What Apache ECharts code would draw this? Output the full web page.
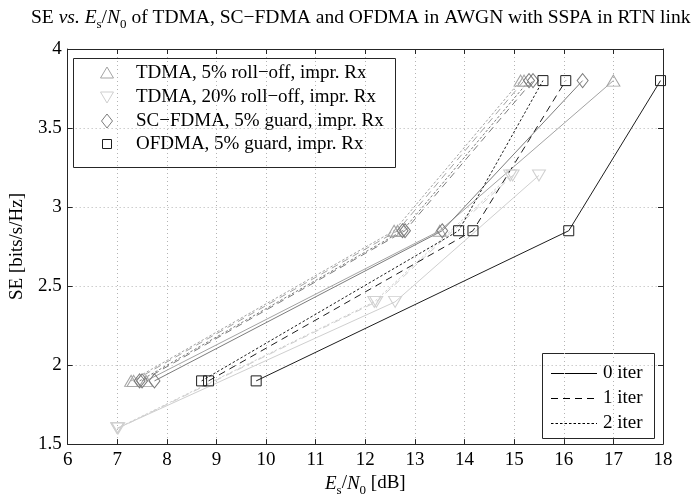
<!DOCTYPE html>
<html>
<head>
<meta charset="utf-8">
<script src="https://cdn.jsdelivr.net/npm/echarts@6/dist/echarts.min.js"></script>
<style>
  html, body { margin: 0; padding: 0; background: #fff; }
  #chart { width: 692px; height: 502px; }
</style>
</head>
<body>
<div id="chart"></div>
<script>
// Spectral efficiency operating points [bits/s/Hz]
const seLevels5 = [1.9, 2.85, 3.8];   // 5% roll-off / 5% guard band
const seLevels20 = [1.6, 2.4, 3.2];   // 20% roll-off

// Required Es/N0 [dB] for each scheme and number of receiver iterations
const tdma5Iter0 = [7.58, 13.5, 17.0];
const tdma5Iter1 = [7.33, 12.65, 15.2];
const tdma5Iter2 = [7.28, 12.58, 15.13];

const tdma20Iter0 = [7.0, 12.6, 15.5];
const tdma20Iter1 = [7.02, 12.22, 14.97];
const tdma20Iter2 = [7.0, 12.18, 14.92];

const scfdmaIter0 = [7.75, 13.55, 16.38];
const scfdmaIter1 = [7.5, 12.8, 15.38];
const scfdmaIter2 = [7.45, 12.75, 15.3];

const ofdmaIter0 = [9.8, 16.1, 17.95];
const ofdmaIter1 = [8.84, 14.17, 16.04];
const ofdmaIter2 = [8.7, 13.88, 15.58];

const schemeNames = [
  'TDMA, 5% roll\u2212off, impr. Rx',
  'TDMA, 20% roll\u2212off, impr. Rx',
  'SC\u2212FDMA, 5% guard, impr. Rx',
  'OFDMA, 5% guard, impr. Rx'
];
const iterNames = ['0 iter', '1 iter', '2 iter'];

const FONT = 'Liberation Serif';
const colTdma5 = '#a3a3a3';
const colTdma20 = '#cfcfcf';
const colScfdma = '#7c7c7c';
const colOfdma = '#1e1e1e';
const dashes = ['solid', [7, 5], [2.5, 2]];

function pairs(xs, ys) {
  return xs.map((x, i) => [x, ys[i]]);
}

function makeSeries(name, xs, ys, color, symbol, size, rotate, iter) {
  return {
    type: 'line',
    name: name,
    data: pairs(xs, ys),
    symbol: symbol,
    symbolSize: size,
    symbolRotate: rotate,
    showAllSymbol: true,
    lineStyle: { color: color, width: 1, type: dashes[iter] },
    itemStyle: { color: 'rgba(0,0,0,0)', borderColor: color, borderWidth: 1 },
    emphasis: { disabled: true },
    silent: true,
    animation: false
  };
}

const series = [];
[tdma20Iter0, tdma20Iter1, tdma20Iter2].forEach((xs, k) =>
  series.push(makeSeries(schemeNames[1], xs, seLevels20, colTdma20, 'triangle', [13, 11], 180, k)));
[tdma5Iter0, tdma5Iter1, tdma5Iter2].forEach((xs, k) =>
  series.push(makeSeries(schemeNames[0], xs, seLevels5, colTdma5, 'triangle', [13, 11], 0, k)));
[scfdmaIter0, scfdmaIter1, scfdmaIter2].forEach((xs, k) =>
  series.push(makeSeries(schemeNames[2], xs, seLevels5, colScfdma, 'diamond', [11, 14], 0, k)));
[ofdmaIter0, ofdmaIter1, ofdmaIter2].forEach((xs, k) =>
  series.push(makeSeries(schemeNames[3], xs, seLevels5, colOfdma, 'rect', [10, 10], 0, k)));

const labelStyle = { fontFamily: FONT, fontSize: 19, fontWeight: 'normal', color: '#000' };
const axisLineStyle = { lineStyle: { color: '#262626', width: 1 } };
const tickStyle = { inside: true, length: 5, lineStyle: { color: '#262626', width: 1 } };
const gridLine = { show: true, lineStyle: { color: '#b4b4b4', width: 1, type: [1, 3] } };

function mathRich(size) {
  return {
    n: { fontFamily: FONT, fontSize: size, fontWeight: 'normal', color: '#000', verticalAlign: 'top' },
    i: { fontFamily: FONT, fontSize: size, fontWeight: 'normal', fontStyle: 'italic', color: '#000', verticalAlign: 'top' },
    sub: { fontFamily: FONT, fontSize: 13, fontWeight: 'normal', color: '#000', verticalAlign: 'top', padding: [10, 0, 0, 0] }
  };
}

// Legend boxes
const L1 = { x: 73, y: 58, w: 322, h: 109, rows: [73, 97, 121, 144], mx: 107, tx: 136 };
const L2 = { x: 542, y: 353, w: 112, h: 85, rows: [373, 398, 423], x0: 551, x1: 597, tx: 603 };

function legendText(x, y, text) {
  return { type: 'text', x: x, y: y, style: { text: text, fontFamily: FONT, fontSize: 19, fill: '#000', verticalAlign: 'middle', align: 'left' } };
}

const legendGraphics = [
  { type: 'rect', shape: { x: L1.x + 0.5, y: L1.y + 0.5, width: L1.w, height: L1.h }, style: { fill: '#fff', stroke: '#262626', lineWidth: 1 } },
  { type: 'polygon', shape: { points: [[L1.mx - 6.5, L1.rows[0] + 5], [L1.mx + 6.5, L1.rows[0] + 5], [L1.mx, L1.rows[0] - 6]] }, style: { fill: 'none', stroke: colTdma5, lineWidth: 1 } },
  { type: 'polygon', shape: { points: [[L1.mx - 6.5, L1.rows[1] - 5], [L1.mx + 6.5, L1.rows[1] - 5], [L1.mx, L1.rows[1] + 6]] }, style: { fill: 'none', stroke: colTdma20, lineWidth: 1 } },
  { type: 'polygon', shape: { points: [[L1.mx, L1.rows[2] - 7], [L1.mx + 5.5, L1.rows[2]], [L1.mx, L1.rows[2] + 7], [L1.mx - 5.5, L1.rows[2]]] }, style: { fill: 'none', stroke: colScfdma, lineWidth: 1 } },
  { type: 'rect', shape: { x: L1.mx - 4.5, y: L1.rows[3] - 4.5, width: 9, height: 9 }, style: { fill: 'none', stroke: colOfdma, lineWidth: 1 } },
  { type: 'rect', shape: { x: L2.x + 0.5, y: L2.y + 0.5, width: L2.w, height: L2.h }, style: { fill: '#fff', stroke: '#262626', lineWidth: 1 } }
];
schemeNames.forEach((t, i) => legendGraphics.push(legendText(L1.tx, L1.rows[i], t)));
iterNames.forEach((t, i) => {
  legendGraphics.push({
    type: 'line',
    shape: { x1: L2.x0, y1: L2.rows[i] + 0.5, x2: L2.x1, y2: L2.rows[i] + 0.5 },
    style: { stroke: '#000', lineWidth: 1, lineDash: dashes[i] === 'solid' ? null : dashes[i] }
  });
  legendGraphics.push(legendText(L2.tx, L2.rows[i], t));
});

const chart = echarts.init(document.getElementById('chart'), null, { renderer: 'canvas' });
chart.setOption({
  backgroundColor: '#fff',
  animation: false,
  title: {
    left: 31,
    top: 6,
    padding: [2, 0, 2, 0],
    text: '{n|SE }{i|vs.}{n| }{i|E}{sub|s}{n|/}{i|N}{sub|0}{n| of TDMA, SC\u2212FDMA and OFDMA in AWGN with SSPA in RTN link}',
    textStyle: { fontWeight: 'normal', rich: mathRich(19.5) }
  },
  grid: { left: 65, right: 29, top: 49, bottom: 48, containLabel: false },
  xAxis: [
    {
      type: 'value', min: 6, max: 18, interval: 1, position: 'bottom',
      axisLine: axisLineStyle, axisTick: tickStyle, splitLine: gridLine,
      axisLabel: Object.assign({ margin: 6 }, labelStyle),
      name: '{i|E}{sub|s}{n|/}{i|N}{sub|0}{n| [dB]}',
      nameLocation: 'middle', nameGap: 26,
      nameTextStyle: { rich: mathRich(19) }
    },
    {
      type: 'value', min: 6, max: 18, interval: 1, position: 'top',
      axisLine: axisLineStyle, axisTick: tickStyle, splitLine: { show: false },
      axisLabel: { show: false }
    }
  ],
  yAxis: [
    {
      type: 'value', min: 1.5, max: 4, interval: 0.5, position: 'left',
      axisLine: axisLineStyle, axisTick: tickStyle, splitLine: gridLine,
      axisLabel: Object.assign({ margin: 6 }, labelStyle),
      name: 'SE [bits/s/Hz]', nameLocation: 'middle', nameGap: 36,
      nameTextStyle: labelStyle
    },
    {
      type: 'value', min: 1.5, max: 4, interval: 0.5, position: 'right',
      axisLine: axisLineStyle, axisTick: tickStyle, splitLine: { show: false },
      axisLabel: { show: false }
    }
  ],
  series: series,
  graphic: legendGraphics
});
</script>
</body>
</html>
